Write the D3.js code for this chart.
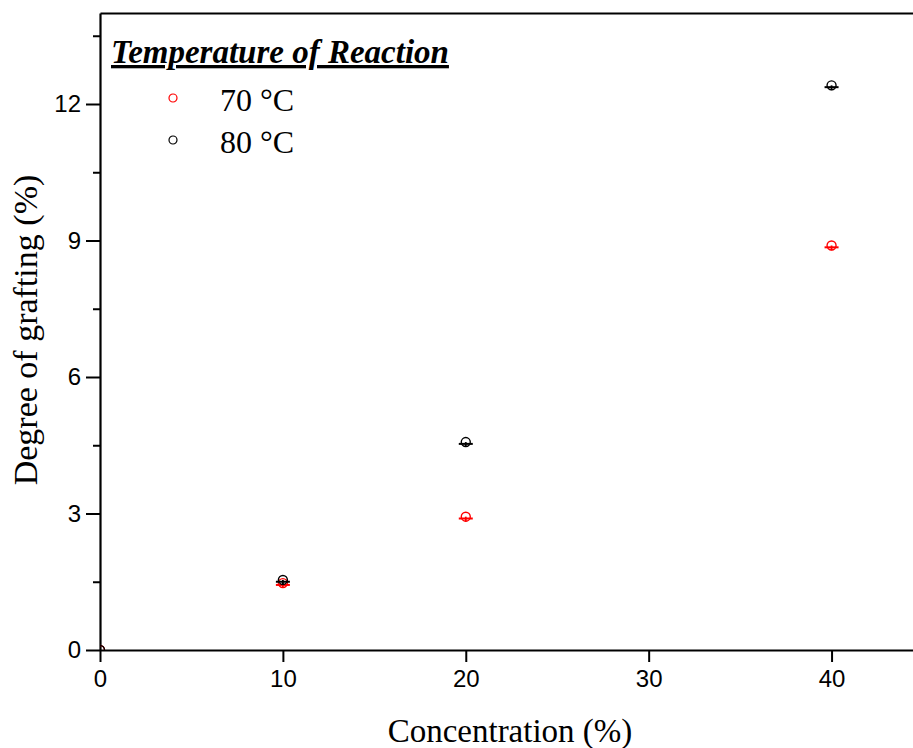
<!DOCTYPE html>
<html>
<head>
<meta charset="utf-8">
<script src="https://cdn.jsdelivr.net/npm/d3@7"></script>
<style>
  body { margin: 0; background: #fff; }
  svg { display: block; }
</style>
</head>
<body>
<div id="chart"></div>
<script>
(function() {
  var W = 913, H = 748
  var margin = { top: 13, left: 100, right: -10, bottom: 98 },
      width = W - margin.left - margin.right,
      height = H - margin.top - margin.bottom

  // data
  var concentration = [0, 10, 20, 40]
  var graft70 = [0, 1.47, 2.93, 8.89]
  var graft80 = [0, 1.54, 4.57, 12.41]
  var err70 = [0.04, 0.04, 0.04, 0.04]
  var err80 = [0.04, 0.04, 0.04, 0.04]
  var seriesNames = ['70 °C', '80 °C']
  var seriesColors = ['#ff0000', '#000000']
  var xTicks = [0, 10, 20, 30, 40]
  var yTicks = [0, 3, 6, 9, 12]
  var yMinor = [1.5, 4.5, 7.5, 10.5, 13.5]

  var series = [
    { name: seriesNames[0], color: seriesColors[0], values: graft70, err: err70 },
    { name: seriesNames[1], color: seriesColors[1], values: graft80, err: err80 }
  ]

  var svg = d3.select("#chart")
      .append("svg")
      .attr("width", W)
      .attr("height", H)

  var container = svg.append("g")
      .attr("transform", "translate(" + margin.left + "," + margin.top + ")")

  var xScale = d3.scaleLinear().domain([0, 45]).range([0, width])
  var yScale = d3.scaleLinear().domain([0, 14]).range([height, 0])

  svg.append("defs").append("clipPath")
      .attr("id", "plotclip")
      .append("rect")
      .attr("width", width)
      .attr("height", height)

  // axes
  container.append("g")
      .attr("transform", "translate(0," + height + ")")
      .call(d3.axisBottom(xScale).tickValues(xTicks).tickSize(12).tickPadding(8).tickSizeOuter(0))
  container.append("g")
      .call(d3.axisLeft(yScale).tickValues(yTicks).tickSize(14).tickPadding(5).tickSizeOuter(0))

  container.append("g")
      .call(d3.axisLeft(yScale).tickValues(yMinor).tickSize(7).tickFormat("").tickSizeOuter(0))
      .select(".domain").remove()

  // top frame
  container.append("g")
      .call(d3.axisTop(xScale).tickValues([]).tickSizeOuter(0))

  container.selectAll(".domain").attr("stroke-width", 2.2).attr("stroke", "#000")
  container.selectAll(".tick line").attr("stroke-width", 2).attr("stroke", "#000")
  container.selectAll(".tick text")
      .attr("font-family", "'Liberation Sans', Arial, sans-serif")
      .attr("font-size", "24px")
      .attr("fill", "#000")

  // points with small error bars
  var plot = container.append("g").attr("clip-path", "url(#plotclip)")

  series.forEach(function(s) {
    var g = plot.append("g")
    var pts = concentration.map(function(c, i) {
      return { x: c, y: s.values[i], e: s.err[i] }
    })
    g.selectAll(".ebar")
        .data(pts)
        .enter().append("line")
        .attr("x1", function(d) { return xScale(d.x) })
        .attr("x2", function(d) { return xScale(d.x) })
        .attr("y1", function(d) { return yScale(d.y) })
        .attr("y2", function(d) { return yScale(d.y - d.e) + 3 })
        .attr("stroke", s.color)
        .attr("stroke-width", 1.8)
    g.selectAll(".cap")
        .data(pts)
        .enter().append("line")
        .attr("x1", function(d) { return xScale(d.x) - 7 })
        .attr("x2", function(d) { return xScale(d.x) + 7 })
        .attr("y1", function(d) { return yScale(d.y - d.e) })
        .attr("y2", function(d) { return yScale(d.y - d.e) })
        .attr("stroke", s.color)
        .attr("stroke-width", 2)
    g.selectAll("circle")
        .data(pts)
        .enter().append("circle")
        .attr("cx", function(d) { return xScale(d.x) })
        .attr("cy", function(d) { return yScale(d.y) })
        .attr("r", 4.5)
        .attr("fill", "none")
        .attr("stroke", s.color)
        .attr("stroke-width", 1.4)
  })

  // axis titles
  svg.append("text")
      .text("Concentration (%)")
      .attr("x", 510)
      .attr("y", 742)
      .attr("text-anchor", "middle")
      .attr("font-family", "'Liberation Serif', 'Times New Roman', serif")
      .attr("font-size", "33px")

  svg.append("text")
      .text("Degree of grafting (%)")
      .attr("transform", "translate(37,330) rotate(-90)")
      .attr("text-anchor", "middle")
      .attr("font-family", "'Liberation Serif', 'Times New Roman', serif")
      .attr("font-size", "34px")

  // legend
  var legend = svg.append("g")
  legend.append("text")
      .text("Temperature of Reaction")
      .attr("x", 111)
      .attr("y", 63)
      .attr("font-family", "'Liberation Serif', 'Times New Roman', serif")
      .attr("font-size", "33px")
      .attr("font-weight", "bold")
      .attr("font-style", "italic")
      .attr("text-decoration", "underline")

  legend.selectAll(".item")
      .data(series)
      .enter().append("g")
      .attr("transform", function(d, i) { return "translate(0," + (98 + i * 42) + ")" })
      .each(function(d) {
        var item = d3.select(this)
        item.append("circle")
            .attr("cx", 173)
            .attr("cy", 0)
            .attr("r", 4)
            .attr("fill", "none")
            .attr("stroke", d.color)
            .attr("stroke-width", 1.2)
        item.append("text")
            .text(d.name)
            .attr("x", 220)
            .attr("y", 13)
            .attr("font-family", "'Liberation Serif', 'Times New Roman', serif")
            .attr("font-size", "32px")
      })
})();
</script>
</body>
</html>
